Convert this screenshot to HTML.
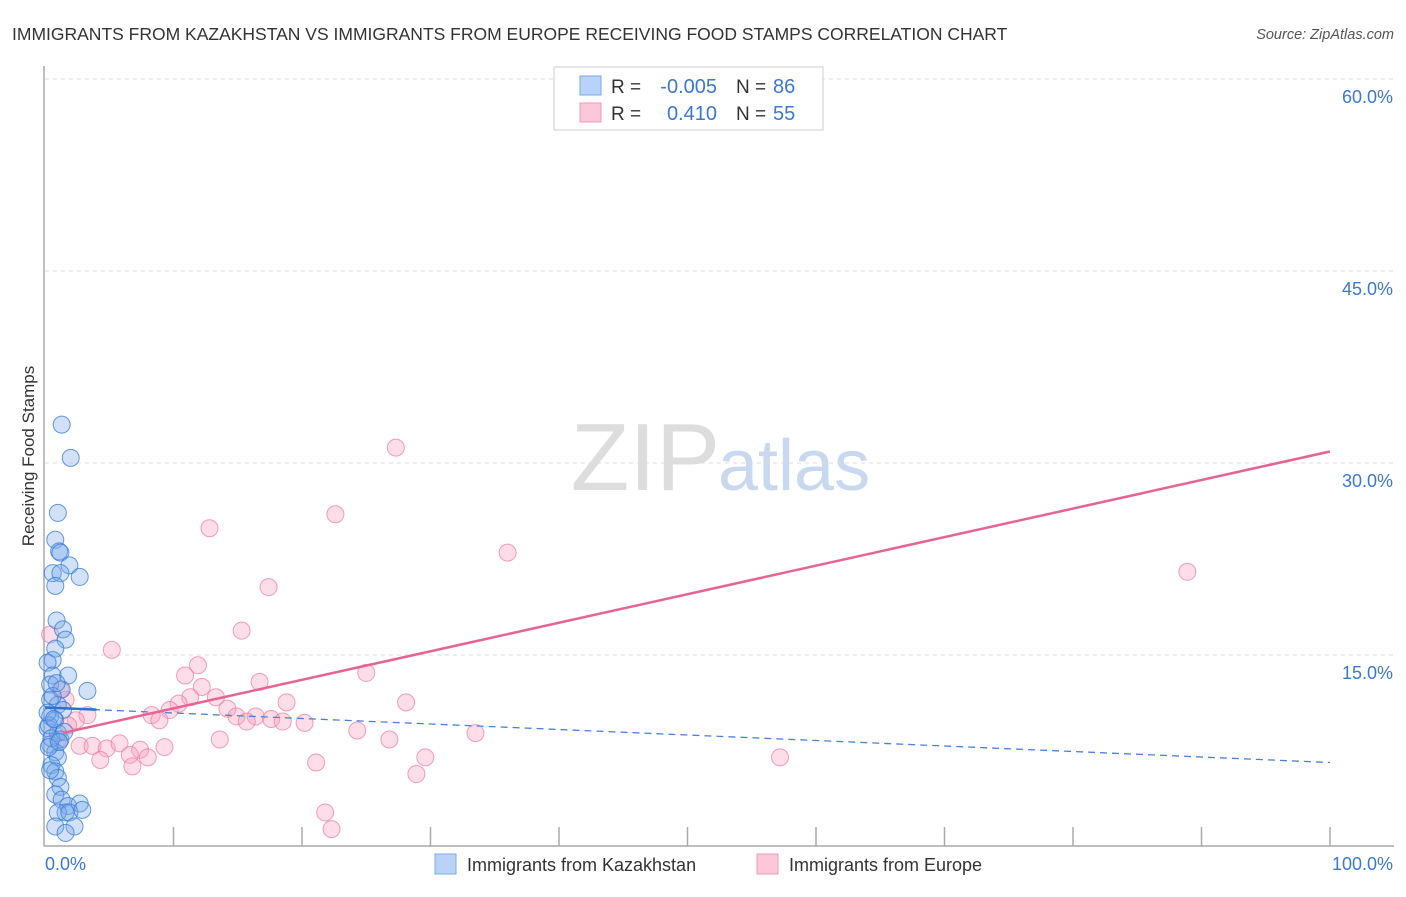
<!DOCTYPE html>
<html><head><meta charset="utf-8"><style>
body{margin:0;background:#fff;font-family:"Liberation Sans",sans-serif}
svg text{font-family:"Liberation Sans",sans-serif}
</style></head><body>
<svg width="1406" height="892" xmlns="http://www.w3.org/2000/svg">
<text x="12" y="40" font-size="17.5" fill="#333">IMMIGRANTS FROM KAZAKHSTAN VS IMMIGRANTS FROM EUROPE RECEIVING FOOD STAMPS CORRELATION CHART</text>
<text x="1394" y="39" font-size="14.5" fill="#555" font-style="italic" text-anchor="end">Source: ZipAtlas.com</text>
<text transform="translate(34,456) rotate(-90)" font-size="17" fill="#333" text-anchor="middle">Receiving Food Stamps</text>
<text x="720" y="490" font-size="96" fill="#ddd" font-family="Liberation Serif" text-anchor="end">ZIP</text>
<text x="718" y="490" font-size="72" fill="#c8d8f0">atlas</text>
<g id="grid"></g>
<g id="axes"></g>
<g id="pts"></g>
<g id="trend"></g>
<g>
<rect x="554" y="67" width="269" height="63" fill="#fff" stroke="#ccc"/>
<rect x="580" y="76" width="21" height="19" fill="#b8d3f7" stroke="#7aa8e8"/>
<rect x="580" y="103" width="21" height="19" fill="#fcc7d8" stroke="#f29bb6"/>
<text x="611" y="93" font-size="19" fill="#333">R =</text>
<text x="717" y="93" font-size="20" fill="#3b78d4" text-anchor="end">-0.005</text>
<text x="736" y="93" font-size="19" fill="#333">N =</text>
<text x="773" y="93" font-size="20" fill="#3b78d4">86</text>
<text x="611" y="120" font-size="19" fill="#333">R =</text>
<text x="717" y="120" font-size="20" fill="#3b78d4" text-anchor="end">0.410</text>
<text x="736" y="120" font-size="19" fill="#333">N =</text>
<text x="773" y="120" font-size="20" fill="#3b78d4">55</text>
</g>
<g>
<rect x="435" y="854" width="21" height="20" fill="#b8d3f7" stroke="#7aa8e8"/>
<text x="467" y="871" font-size="18" fill="#333">Immigrants from Kazakhstan</text>
<rect x="757" y="854" width="21" height="20" fill="#fcc7d8" stroke="#f29bb6"/>
<text x="789" y="871" font-size="18" fill="#333">Immigrants from Europe</text>
</g>
</svg>
<script>
const yTicks=[15,30,45,60];
const yTickLabels=["15.0%","30.0%","45.0%","60.0%"];
const xTickLabels=["0.0%","100.0%"];
const blueX=[1.3,2.0,1.0,0.8,1.1,1.2,1.9,0.6,1.2,2.7,0.8,0.9,1.4,1.6,0.8,0.6,0.2,0.6,1.8,0.4,1.3,3.3,0.4,1.0,1.4,0.4,0.8,0.2,1.0,1.2,0.4,0.8,1.0,0.5,0.8,1.0,1.2,0.8,1.3,1.8,2.7,1.6,1.0,1.9,2.9,0.8,2.3,1.6,0.3,0.5,0.2,1.5,0.7,0.3,1.1,0.6,0.9,0.4];
const blueY=[33.0,30.4,26.1,24.0,23.1,23.0,22.0,21.4,21.4,21.1,20.4,17.7,17.0,16.2,15.5,14.6,14.4,13.4,13.4,12.7,12.3,12.2,11.5,11.1,10.7,10.2,9.9,9.3,8.9,8.4,8.0,7.4,7.0,6.4,5.9,5.4,4.7,4.1,3.7,3.2,3.4,2.7,2.7,2.7,2.9,1.6,1.6,1.1,9.5,8.5,10.5,9.0,10.0,7.8,8.2,11.8,12.8,6.0];
const pinkX=[27.3,22.6,12.8,36.0,88.9,17.4,15.3,5.2,25.0,11.9,10.9,16.7,12.2,11.3,13.3,10.4,18.8,28.1,14.2,9.7,8.3,16.4,8.9,14.9,15.7,17.6,18.5,20.2,3.3,2.4,1.6,1.2,0.4,24.3,33.5,13.6,26.8,2.7,3.7,4.8,5.8,7.4,9.3,6.6,8.0,4.3,6.8,29.6,57.2,21.1,28.9,21.8,22.3,1.8,1.0];
const pinkY=[31.2,26.0,24.9,23.0,21.5,20.3,16.9,15.4,13.6,14.2,13.4,12.9,12.5,11.7,11.7,11.2,11.3,11.3,10.8,10.7,10.3,10.2,9.9,10.2,9.8,10.0,9.8,9.7,10.3,9.9,11.5,12.3,16.6,9.1,8.9,8.4,8.4,7.9,7.9,7.7,8.1,7.6,7.8,7.2,7.0,6.8,6.3,7.0,7.0,6.6,5.7,2.7,1.4,9.5,8.4];
const blueTrend=[10.9,6.6];
const pinkTrend=[8.6,30.9];
const NS="http://www.w3.org/2000/svg";
const X0=45,X1=1330,Y0=847,YPER=12.8;
function xs(v){return X0+v/100*(X1-X0);}
function ys(v){return Y0-v*YPER;}
function mk(tag,attrs,parent){const e=document.createElementNS(NS,tag);for(const k in attrs)e.setAttribute(k,attrs[k]);parent.appendChild(e);return e;}
const grid=document.getElementById('grid');
yTicks.forEach((t,i)=>{
 const l=mk('line',{x1:45,x2:1394,y1:ys(t),y2:ys(t),stroke:'#ddd','stroke-dasharray':'4,4'},grid);
 
 
 const tx=mk('text',{x:1393,y:ys(t)+24,'font-size':18,fill:'#3b78d4','text-anchor':'end'},grid);
 tx.textContent=yTickLabels[i];
 
 
});
const axes=document.getElementById('axes');
const ya=mk('line',{x1:44,x2:44,y1:66,y2:846,stroke:'#aaa','stroke-width':1.5},axes);


const xa=mk('line',{x1:44,x2:1394,y1:846,y2:846,stroke:'#aaa','stroke-width':1.5},axes);


for(let i=1;i<=10;i++){
 const tk=mk('line',{x1:xs(i*10),x2:xs(i*10),y1:827,y2:846,stroke:'#aaa','stroke-width':1.5},axes);
 
 
}
const xl0=mk('text',{x:45,y:870,'font-size':18,fill:'#3b78d4'},axes);
xl0.textContent=xTickLabels[0];


const xl1=mk('text',{x:1393,y:870,'font-size':18,fill:'#3b78d4','text-anchor':'end'},axes);
xl1.textContent=xTickLabels[1];


const pts=document.getElementById('pts');
pinkX.forEach((v,i)=>{
 const c=mk('circle',{cx:xs(v),cy:ys(pinkY[i]),r:8.5,fill:'rgba(248,160,188,0.35)',stroke:'rgba(235,120,160,0.7)','stroke-width':1},pts);
 
 
});
blueX.forEach((v,i)=>{
 const c=mk('circle',{cx:xs(v),cy:ys(blueY[i]),r:8.5,fill:'rgba(120,170,235,0.35)',stroke:'rgba(50,120,215,0.75)','stroke-width':1},pts);
 
 
});
const tr=document.getElementById('trend');
const bt=mk('line',{x1:xs(0),y1:ys(blueTrend[0]),x2:xs(100),y2:ys(blueTrend[1]),stroke:'#4a80d8','stroke-width':1.3,'stroke-dasharray':'7,5'},tr);


const bs=mk('line',{x1:xs(0),y1:ys(blueTrend[0]),x2:xs(4),y2:ys(blueTrend[0]+(blueTrend[1]-blueTrend[0])*0.04),stroke:'#2f6fd0','stroke-width':2.5},tr);


const pt=mk('line',{x1:xs(1.4),y1:ys(pinkTrend[0]+(pinkTrend[1]-pinkTrend[0])*0.014),x2:xs(100),y2:ys(pinkTrend[1]),stroke:'#e8648f','stroke-width':2.5},tr);


</script>
</body></html>
